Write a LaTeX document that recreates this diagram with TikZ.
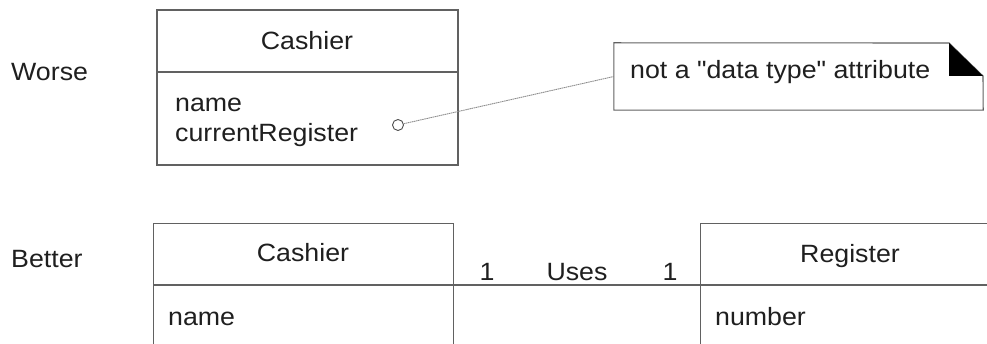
\documentclass[tikz,border=0pt]{standalone}
\usepackage{fontspec}
\setmainfont[FakeStretch=1.07]{Liberation Sans}
\font\plainqf="Liberation Sans:extend=1.07" at 25pt
\begin{document}
\begin{tikzpicture}[x=1pt,y=-1pt,
  ln/.style={draw=black!62,line width=1.3pt},
  classbox/.style={ln,rectangle,inner sep=0pt},
  txt/.style={inner sep=0pt,anchor=base,font=\fontsize{25}{30}\selectfont,text=black!88},
  ltxt/.style={txt,anchor=base west}]
\useasboundingbox (0,0) rectangle (987,344);
% labels
\node[ltxt] (worse) at (11,81) {Worse};
\node[ltxt] (better) at (11,268) {Better};
% worse cashier
\node[classbox,minimum width=301pt,minimum height=155pt] (c1) at (307.5,87.5) {};
\coordinate (c1d) at (157,72);
\draw[ln] (c1d) -- (c1d -| c1.east);
\node[txt] (c1n) at (307,50) {Cashier};
\node[ltxt] (c1a) at (175,112) {name};
\node[ltxt] (c1b) at (175,142) {currentRegister};
% note
\node[inner sep=0pt,minimum width=369pt,minimum height=67pt] (note) at (798.5,76.5) {};
\draw[ln,line width=1.1pt] (note.north west) -- (949,43) -- (983,76) -- (note.south east) -- (note.south west) -- cycle;
\fill[black] (949,43) -- (949,76) -- (983,76) -- cycle;
\node[ltxt] (notet) at (630,79) {\plainqf not a "data type" attribute};
\node[circle,draw=black!70,line width=0.9pt,minimum size=11pt,inner sep=0pt] (pin) at (398,125) {};
\draw[black!45,line width=0.9pt,dash pattern=on 1.5pt off 0.6pt] (pin) -- (note.west);
% better cashier
\node[classbox,minimum width=300pt,minimum height=140pt,anchor=north west] (c2) at (153,223) {};
\coordinate (c2d) at (153,285);
\draw[ln] (c2d) -- (c2d -| c2.east);
\node[txt] (c2n) at (303,262) {Cashier};
\node[ltxt] (c2a) at (168,325) {name};
% register
\node[classbox,minimum width=320pt,minimum height=140pt,anchor=north west] (r) at (700,223) {};
\coordinate (rd) at (700,285);
\draw[ln] (rd) -- (rd -| r.east);
\node[txt] (rn) at (850,263) {Register};
\node[ltxt] (ra) at (715,325) {number};
% association
\draw[ln] (c2d -| c2.east) -- (rd);
\node[txt] (m1) at (487,281) {1};
\node[txt] (uses) at (577,281) {Uses};
\node[txt] (m2) at (670,281) {1};
\end{tikzpicture}
\end{document}
